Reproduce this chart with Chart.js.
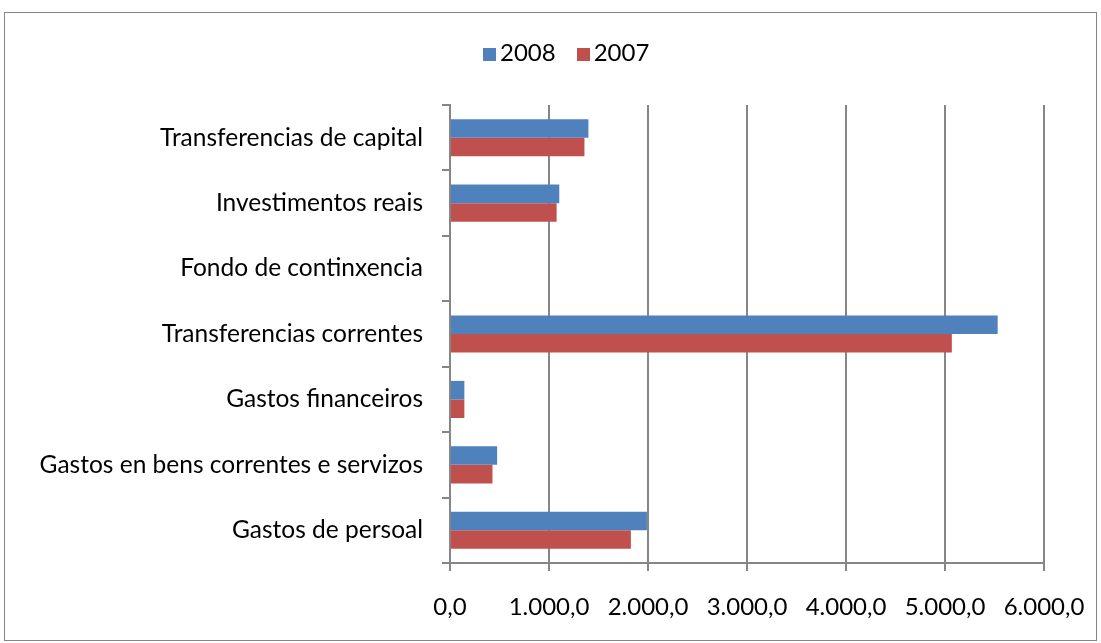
<!DOCTYPE html>
<html>
<head>
<meta charset="utf-8">
<script src="https://cdn.jsdelivr.net/npm/chart.js@4"></script>
<style>
  body { margin: 0; background: #fff; }
  #box {
    position: absolute; left: 4px; top: 12px; width: 1093px; height: 629px;
    border: 1px solid #868686; box-sizing: border-box;
  }
  #wrap { position: absolute; left: 0; top: 0; width: 1091px; height: 627px; }
  #legend {
    position: absolute; left: 478px; top: 24px; white-space: nowrap;
    font-family: Lato, 'Open Sans', sans-serif; font-size: 24px; color: #000;
  }
  #legend span.item { display: inline-block; margin-right: 21px; }
  #legend span.sw { display: inline-block; width: 13px; height: 13px; margin-right: 4px; }
</style>
</head>
<body>
<div id="box">
  <div id="wrap"><canvas id="chart"></canvas></div>
  <div id="legend"></div>
</div>
<script>
const categories = [
  "Transferencias de capital",
  "Investimentos reais",
  "Fondo de continxencia",
  "Transferencias correntes",
  "Gastos financeiros",
  "Gastos en bens correntes e servizos",
  "Gastos de persoal"
];
const seriesNames = ["2008", "2007"];
const values2008 = [1398, 1104, 0, 5532, 145, 476, 1989];
const values2007 = [1358, 1077, 0, 5069, 145, 429, 1827];
const xTicks = [0, 1000, 2000, 3000, 4000, 5000, 6000];

const colors = ["#4F81BD", "#C0504D"];
const fontFamily = "Lato, 'Open Sans', sans-serif";
const gridColor = "#868686";

function fmt(v) {
  const s = Math.round(v).toString().replace(/\B(?=(\d{3})+(?!\d))/g, ".");
  return s + ",0";
}

const chart = new Chart(document.getElementById("chart"), {
  type: "bar",
  data: {
    labels: categories,
    datasets: [
      { label: seriesNames[0], data: values2008, backgroundColor: colors[0],
        categoryPercentage: 0.567, barPercentage: 1.0 },
      { label: seriesNames[1], data: values2007, backgroundColor: colors[1],
        categoryPercentage: 0.567, barPercentage: 1.0 }
    ]
  },
  options: {
    indexAxis: "y",
    responsive: true,
    maintainAspectRatio: false,
    animation: false,
    layout: { padding: { top: 92, right: 52, left: 0, bottom: 0 } },
    plugins: {
      legend: { display: false },
      tooltip: { enabled: false }
    },
    scales: {
      x: {
        min: xTicks[0], max: xTicks[xTicks.length - 1],
        afterBuildTicks: s => { s.ticks = xTicks.map(v => ({ value: v })); },
        ticks: {
          font: { family: fontFamily, size: 24 },
          color: "#000",
          padding: 22,
          callback: v => fmt(v)
        },
        grid: { color: gridColor, lineWidth: 2, tickLength: 8 },
        border: { color: gridColor, width: 2 },
        afterFit: s => { s.height = 77; s.paddingRight = 0; s.paddingLeft = 0; }
      },
      y: {
        ticks: {
          font: { family: fontFamily, size: 24.5 },
          color: "#000",
          padding: 19
        },
        grid: { color: gridColor, lineWidth: 2, drawOnChartArea: false, tickLength: 8, offset: true },
        border: { color: gridColor, width: 2 },
        afterFit: s => { s.width = 445; s.paddingTop = 0; s.paddingBottom = 0; }
      }
    }
  }
});

// legend as HTML, built from the dataset names and colours
const legend = document.getElementById("legend");
chart.data.datasets.forEach((ds, i) => {
  const item = document.createElement("span");
  item.className = "item";
  const sw = document.createElement("span");
  sw.className = "sw";
  sw.style.background = ds.backgroundColor;
  item.appendChild(sw);
  item.appendChild(document.createTextNode(ds.label));
  legend.appendChild(item);
});
</script>
</body>
</html>
